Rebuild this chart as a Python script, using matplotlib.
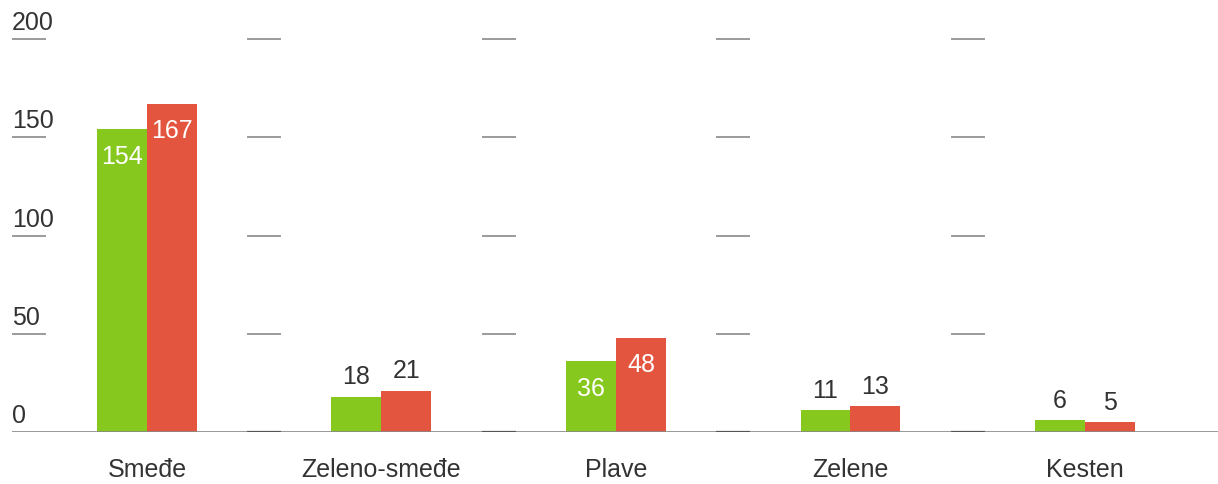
import matplotlib
matplotlib.use("Agg")
import matplotlib.pyplot as plt
from matplotlib import font_manager

categories = ["Smeđe", "Zeleno-smeđe", "Plave", "Zelene", "Kesten"]
series_a = [154, 18, 36, 11, 6]
series_b = [167, 21, 48, 13, 5]
yticks = [0, 50, 100, 150, 200]

names = {f.name for f in font_manager.fontManager.ttflist}
fam = "Liberation Sans Narrow" if "Liberation Sans Narrow" in names else "Liberation Sans"
plt.rcParams['font.family'] = [fam, 'DejaVu Sans']

GREEN = "#86c81e"
RED = "#e4553f"
TXT = "#333333"
GRID = "#8a8a8a"
FS = 18

W, H = 1218, 485
fig = plt.figure(figsize=(W / 100, H / 100), dpi=100)
left_px, right_px, bottom_px, top_px = 12, 1218, 433, 8
ax = fig.add_axes([left_px / W, (H - bottom_px) / H, (right_px - left_px) / W, (bottom_px - top_px) / H])

unit = 234.5
c0 = 147
xmin = (left_px - c0) / unit
xmax = (right_px - c0) / unit
ppv = (433 - 40) / 200.0
ymax = (bottom_px - top_px) / ppv
ax.set_xlim(xmin, xmax)
ax.set_ylim(0, ymax)
for s in ax.spines.values():
    s.set_visible(False)
ax.set_xticks([])
ax.set_yticks([])

bw = 50 / unit
xs = list(range(len(categories)))
ax.bar([x - bw / 2 for x in xs], series_a, width=bw, color=GREEN, zorder=3)
ax.bar([x + bw / 2 for x in xs], series_b, width=bw, color=RED, zorder=3)

# baseline
ax.axhline(0, color="#888888", lw=1.2, zorder=4)

# y labels with underline dashes
dash_r = (46 - c0) / unit
for v in yticks:
    ax.text(xmin, v + 5, str(v), ha="left", va="baseline", fontsize=FS, color=TXT)
    if v > 0:
        ax.plot([xmin, dash_r], [v, v], color=GRID, lw=1.2, solid_capstyle="butt")

# between-group dashes
hw = 17 / unit
for i in range(len(categories) - 1):
    xc = i + 0.5
    for v in yticks:
        ax.plot([xc - hw, xc + hw], [v, v], color=("#555555" if v == 0 else GRID),
                lw=1.2 if v else 1.6, solid_capstyle="butt", zorder=5)

# value labels
def label(x, v):
    if v >= 30:
        ax.text(x, v - 13.5, str(v), ha="center", va="center", fontsize=FS, color="white", zorder=6)
    else:
        ax.text(x, v + 10.5, str(v), ha="center", va="center", fontsize=FS, color=TXT, zorder=6)

for i in xs:
    label(i - bw / 2, series_a[i])
    label(i + bw / 2, series_b[i])

# category labels
for i, c in enumerate(categories):
    ax.text(i, -19, c, ha="center", va="center", fontsize=FS, color=TXT, clip_on=False)

fig.savefig("out.png", dpi=100)
